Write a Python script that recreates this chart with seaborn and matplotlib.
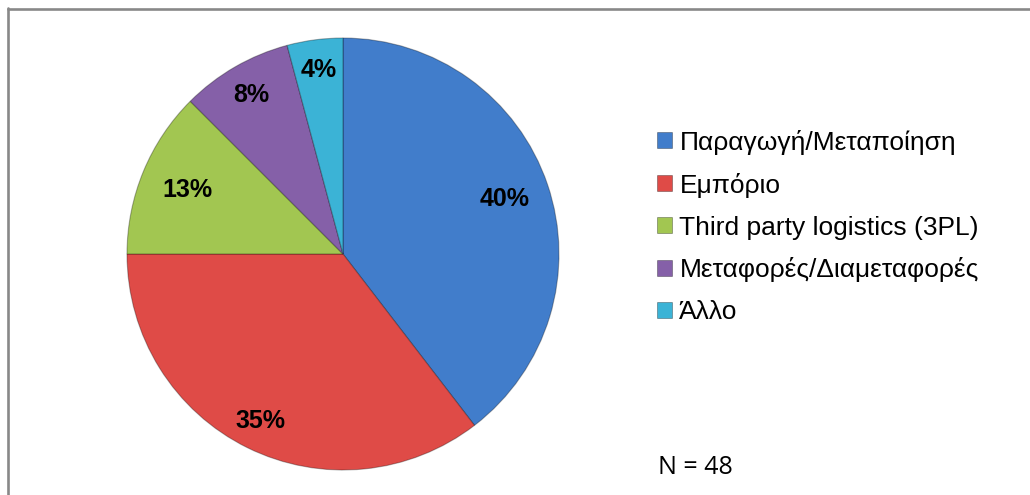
import numpy as np
import matplotlib
matplotlib.use("Agg")
import matplotlib.pyplot as plt
from matplotlib.lines import Line2D
import seaborn as sns

# ---- data ----
categories = ["Παραγωγή/Μεταποίηση", "Εμπόριο", "Third party logistics (3PL)",
              "Μεταφορές/Διαμεταφορές", "Άλλο"]
counts = [19, 17, 6, 4, 2]
pct_labels = ["40%", "35%", "13%", "8%", "4%"]
n_note = "N = 48"

colors = ["#417DCB", "#DF4B47", "#A2C651", "#8560A8", "#3BB3D6"]
label_r = [0.79, 0.86, 0.78, 0.85, 0.86]

sns.set_theme(style="white")
plt.rcParams['font.family'] = ['Liberation Sans', 'DejaVu Sans']
plt.rcParams['text.color'] = 'black'

W, H = 1030, 495
fig = plt.figure(figsize=(W / 100, H / 100), dpi=100)
fig.patch.set_facecolor("white")

cx, cy, R = 343, 254, 216
ax = fig.add_axes([(cx - R) / W, (H - cy - R) / H, 2 * R / W, 2 * R / H])

wedges, _ = ax.pie(counts, colors=colors, startangle=90, counterclock=False,
                   radius=1.0,
                   wedgeprops=dict(edgecolor=(0, 0, 0, 0.3), linewidth=0.8))
ax.set_xlim(-1, 1)
ax.set_ylim(-1, 1)
ax.set_aspect("equal")
ax.axis("off")

for w, lab, r in zip(wedges, pct_labels, label_r):
    theta = np.deg2rad((w.theta1 + w.theta2) / 2)
    ax.text(r * np.cos(theta), r * np.sin(theta), lab, ha="center", va="center",
            fontsize=18, fontweight="bold", color="black")

leg = fig.legend(wedges, categories, loc="center left",
                 bbox_to_anchor=(657 / W, 1 - 227 / H),
                 frameon=False, fontsize=19, handlelength=0.55, handleheight=0.55,
                 handletextpad=0.3, labelspacing=0.68, borderpad=0, borderaxespad=0)
for h in leg.legend_handles:
    h.set_edgecolor((0, 0, 0, 0.35))
    h.set_linewidth(0.6)
for t in leg.get_texts():
    t.set_color("black")

fig.text(658 / W, 1 - 467 / H, n_note, ha="left", va="center", fontsize=18,
         family=["Open Sans", "DejaVu Sans"], color="black")

# frame lines (top and left)
fig.add_artist(Line2D([7.5 / W, 1.0], [1 - 9.3 / H, 1 - 9.3 / H],
                      transform=fig.transFigure, color="#888888", linewidth=1.9))
fig.add_artist(Line2D([7.5 / W, 7.5 / W], [0, 1 - 8.3 / H],
                      transform=fig.transFigure, color="#888888", linewidth=1.9))

fig.savefig("out.png", dpi=100)
